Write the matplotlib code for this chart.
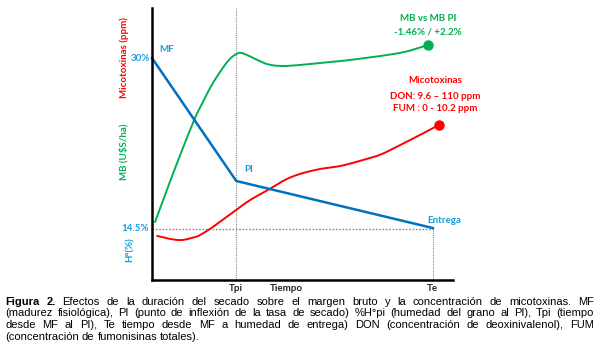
import matplotlib
matplotlib.use("Agg")
import matplotlib.pyplot as plt
import numpy as np

# ---------------- data (arbitrary normalized units, 0-100) ----------------
tick_pos = [28.0, 93.3]
tick_labels = ["Tpi", "Te"]
x_label = "Tiempo"

# Humidity (blue): MF -> PI -> Entrega
hum_x = [0.0, 28.0, 93.3]
hum_y = [81.6, 36.4, 19.1]
hum_ref_y = 18.6  # 14.5 % level
hum_labels = ["30%", "14.5%"]

# Gross margin (green)
mb_x = [1.0, 5.3, 10.0, 14.3, 15.9, 19.3, 22.6, 25.9, 28.9, 31.6, 34.2, 38.2,
        42.5, 47.5, 55.8, 65.8, 82.4, 91.7]
mb_y = [21.3, 34.2, 47.8, 59.6, 63.2, 70.6, 76.5, 81.3, 83.5, 82.7, 81.3, 79.4,
        78.7, 78.9, 79.8, 80.9, 83.5, 86.4]

# Mycotoxins (red)
mic_x = [1.7, 6.0, 10.0, 14.3, 15.9, 19.3, 24.3, 27.9, 32.6, 38.5, 44.2, 49.2,
         55.8, 62.5, 69.1, 75.7, 82.4, 89.0, 95.3]
mic_y = [16.2, 15.1, 14.7, 15.8, 16.5, 18.8, 22.8, 25.7, 29.4, 33.1, 36.8, 39.0,
         40.8, 41.9, 43.8, 46.0, 49.6, 53.3, 57.0]

BLUE = "#0070C0"
LBLUE = "#1A9BDB"
GREEN = "#00B050"
RED = "#FF0000"

caption_lines = [
    [("Figura 2.", True), ("Efectos de la duración del secado sobre el margen bruto y la concentración de micotoxinas. MF", False)],
    [("(madurez fisiológica), PI (punto de inflexión de la tasa de secado) %H°pi (humedad del grano al PI), Tpi (tiempo", False)],
    [("desde MF al PI), Te tiempo desde MF a humedad de entrega) DON (concentración de deoxinivalenol), FUM", False)],
    [("(concentración de fumonisinas totales).", False)],
]


def smooth(xs, ys, n=12):
    """Catmull-Rom curve through the given points (drawing aid only)."""
    p = np.column_stack([xs, ys]).astype(float)
    p = np.vstack([p[0] * 2 - p[1], p, p[-1] * 2 - p[-2]])
    out = []
    t = np.linspace(0, 1, n, endpoint=False)[:, None]
    for i in range(1, len(p) - 2):
        p0, p1, p2, p3 = p[i - 1], p[i], p[i + 1], p[i + 2]
        seg = 0.5 * ((2 * p1) + (-p0 + p2) * t + (2 * p0 - 5 * p1 + 4 * p2 - p3) * t ** 2
                     + (-p0 + 3 * p1 - 3 * p2 + p3) * t ** 3)
        out.append(seg)
    out.append(p[-2][None, :])
    out = np.vstack(out)
    return out[:, 0], out[:, 1]


# ---------------- figure ----------------
W, H = 600, 362
fig = plt.figure(figsize=(6.0, 3.62), dpi=100)
ax = fig.add_axes([152 / W, 1 - 280 / H, 301 / W, 272 / H])
ax.set_xlim(0, 100)
ax.set_ylim(0, 100)
for s in ["top", "right"]:
    ax.spines[s].set_visible(False)
for s in ["left", "bottom"]:
    ax.spines[s].set_linewidth(1.8)
    ax.spines[s].set_color("black")
ax.set_yticks([])
ax.set_xticks(tick_pos)
ax.set_xticklabels(tick_labels)
ax.tick_params(axis="x", length=0, pad=3, labelsize=7)
for t in ax.get_xticklabels():
    t.set_fontfamily("Lato")
    t.set_fontweight("bold")
    t.set_color("#222222")
ax.text(44.5, -1.4, x_label, ha="center", va="top", fontsize=7, family="Lato",
        fontweight="bold", color="#222222", transform=ax.transData, clip_on=False)

# reference dotted lines
ax.plot([tick_pos[0], tick_pos[0]], [0, 100], color="#888888", lw=0.8, ls=(0, (1, 1)))
ax.plot([tick_pos[1], tick_pos[1]], [0, hum_y[-1]], color="#888888", lw=0.8, ls=(0, (1, 1)))
ax.plot([0, hum_x[-1]], [hum_ref_y, hum_ref_y], color="#888888", lw=1.0, ls=(0, (1.2, 1.2)))

# series
sx, sy = smooth(mic_x, mic_y)
ax.plot(sx, sy, color=RED, lw=1.4, solid_capstyle="round", clip_on=False)
ax.plot(mic_x[-1], mic_y[-1], "o", color=RED, ms=6.5, clip_on=False)
sx, sy = smooth(mb_x, mb_y)
ax.plot(sx, sy, color=GREEN, lw=1.4, solid_capstyle="round", clip_on=False)
ax.plot(mb_x[-1], mb_y[-1], "o", color=GREEN, ms=6.5, clip_on=False)
ax.plot(hum_x, hum_y, color=BLUE, lw=1.8, solid_joinstyle="miter", clip_on=False)

fk = dict(family="Lato", fontweight="bold", fontsize=7)
# point labels
ax.text(2.5, hum_y[0] + 1.5, "MF", color=LBLUE, ha="left", va="bottom", **fk)
ax.text(30.5, hum_y[1] + 2.5, "PI", color=LBLUE, ha="left", va="bottom", **fk)
ax.text(97.0, hum_y[-1] + 1.0, "Entrega", color=LBLUE, ha="center", va="bottom", **fk)
ax.text(-0.6, hum_y[0], hum_labels[0], color=LBLUE, ha="right", va="center", **fk)
ax.text(-1.2, hum_ref_y + 0.5, hum_labels[1], color=LBLUE, ha="right", va="center", **fk)

# annotations
ax.text(91.7, 96.3, "MB vs MB PI", color=GREEN, ha="center", va="center", **fk)
ax.text(91.7, 91.2, "-1.46% / +2.2%", color=GREEN, ha="center", va="center", **fk)
ax.text(94.0, 73.5, "Micotoxinas", color=RED, ha="center", va="center", **fk)
ax.text(94.0, 67.6, "DON: 9.6 – 110 ppm", color=RED, ha="center", va="center", **fk)
ax.text(94.0, 63.2, "FUM : 0 - 10.2 ppm", color=RED, ha="center", va="center", **fk)

# rotated axis titles
fig.text(124 / W, 1 - 58 / H, "Micotoxinas (ppm)", color=RED, rotation=90,
         ha="center", va="center", **fk)
fig.text(124 / W, 1 - 152 / H, "MB (U$S/ha)", color=GREEN, rotation=90,
         ha="center", va="center", **fk)
fig.text(130 / W, 1 - 250 / H, "H°(%)", color=LBLUE, rotation=90,
         ha="center", va="center", **fk)

# ---------------- caption (justified) ----------------
renderer = fig.canvas.get_renderer()
cap_font = "Liberation Sans"
cap_size = 8.0
left_px, right_px = 5, 594
line_ys = [302, 313.5, 325, 336.5]


def measure(word, bold):
    t = fig.text(0, 0, word, fontsize=cap_size, family=cap_font,
                 fontweight="bold" if bold else "normal")
    w = t.get_window_extent(renderer).width
    t.remove()
    return w


for li, segs in enumerate(caption_lines):
    words = []
    for txt, bold in segs:
        for wd in txt.split(" "):
            words.append((wd, bold))
    widths = [measure(w, b) for w, b in words]
    justify = li < len(caption_lines) - 1
    if justify:
        gap = (right_px - left_px - sum(widths)) / (len(words) - 1)
    else:
        gap = measure("a b", False) - measure("ab", False)
    x = left_px
    for (wd, b), wdt in zip(words, widths):
        fig.text(x / W, 1 - line_ys[li] / H, wd, fontsize=cap_size, family=cap_font,
                 fontweight="bold" if b else "normal", ha="left", va="center",
                 color="black")
        x += wdt + gap

fig.savefig("out.png", dpi=100)
